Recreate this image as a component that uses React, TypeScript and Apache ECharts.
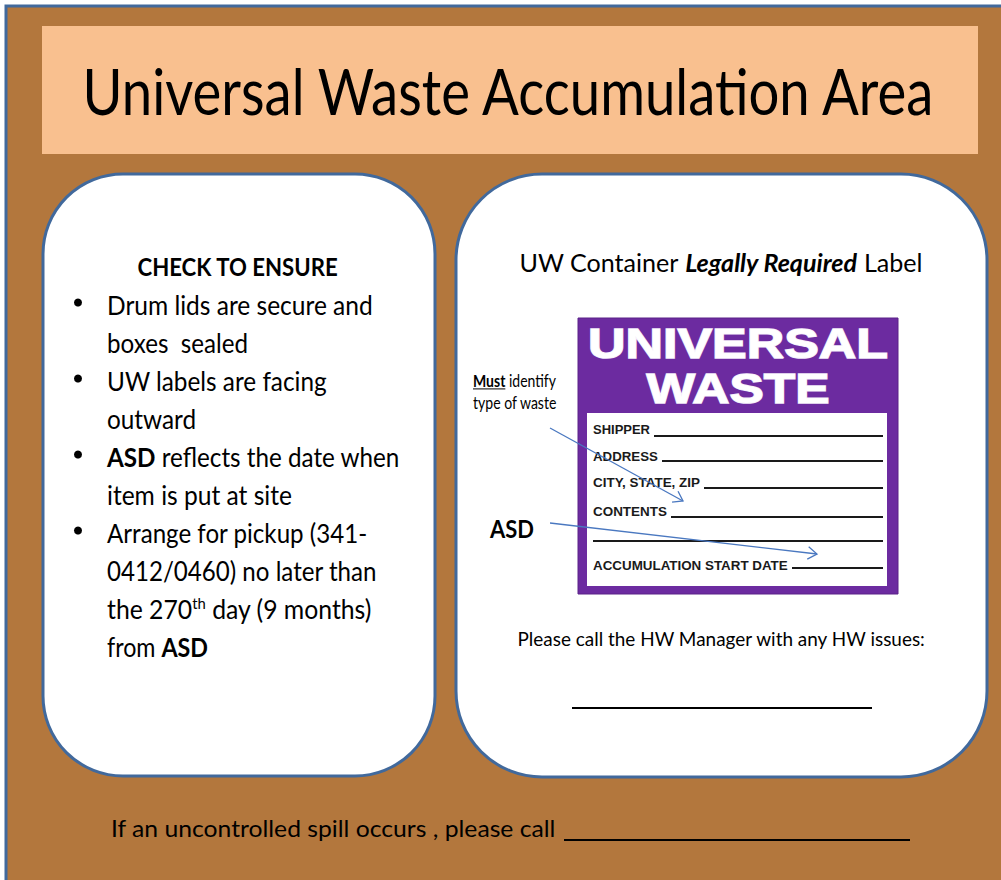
import React, { useEffect, useRef } from 'react';
import * as echarts from 'echarts';

type Seg = { t: string; b?: boolean; i?: boolean; sup?: boolean; u?: boolean };

// ---------- content ----------
const TITLE = 'Universal Waste Accumulation Area';
const CHECK_HEADING = 'CHECK TO ENSURE';
const CHECK_LINES: Seg[][] = [
  [{ t: 'Drum lids are secure and' }],
  [{ t: 'boxes  sealed' }],
  [{ t: 'UW labels are facing' }],
  [{ t: 'outward' }],
  [{ t: 'ASD', b: true }, { t: ' reflects the date when' }],
  [{ t: 'item is put at site' }],
  [{ t: 'Arrange for pickup (341-' }],
  [{ t: '0412/0460) no later than' }],
  [{ t: 'the 270' }, { t: 'th', sup: true }, { t: ' day (9 months)' }],
  [{ t: 'from ' }, { t: 'ASD', b: true }],
];
const BULLET_LINES = [0, 2, 4, 6];
const RIGHT_HEADING: Seg[] = [{ t: 'UW Container ' }, { t: 'Legally Required', b: true, i: true }, { t: ' Label' }];
const NOTE_LINE1: Seg[] = [{ t: 'Must', b: true, u: true }, { t: ' identify' }];
const NOTE_LINE2: Seg[] = [{ t: 'type of waste' }];
const ASD_TEXT = 'ASD';
const LABEL_HEAD = ['UNIVERSAL', 'WASTE'];
const LABEL_FIELDS = ['SHIPPER', 'ADDRESS', 'CITY, STATE, ZIP', 'CONTENTS', '', 'ACCUMULATION START DATE'];
const MANAGER_TEXT = 'Please call the HW Manager with any HW issues:';
const SPILL_TEXT = 'If an uncontrolled spill occurs , please call';

// ---------- layout (pixel targets) ----------
const CHECK_WIDTHS = [266, 141, 220, 89, 293, 185, 261, 270, 265, 101];
const FIELD_WIDTHS = [57, 65, 107, 74, 0, 195];
const FIELD_Y = [430, 457, 483, 512, 540, 566];
const FIELD_LINE_Y = [436, 461, 488, 517, 541, 568];

const FONT = 'Lato';
const LABEL_FONT = '"Liberation Sans", Arial, sans-serif';
const BROWN = '#B3773D';
const PEACH = '#F9C08F';
const BORDER = '#41699C';
const PURPLE = '#6C2BA0';
const ARROW = '#4A78C0';

const cvs = document.createElement('canvas');
const ctx = cvs.getContext('2d')!;
function measure(text: string, size: number, bold = false, italic = false, family = FONT) {
  ctx.font = `${italic ? 'italic' : 'normal'} ${bold ? 'bold' : 'normal'} ${size}px ${family}`;
  return ctx.measureText(text).width;
}

function line(
  segs: Seg[],
  x0: number,
  yMid: number,
  size: number,
  opts: { target?: number; align?: 'left' | 'center'; bold?: boolean; family?: string; color?: string } = {}
): any[] {
  const family = opts.family || FONT;
  const color = opts.color || '#000';
  const ws = segs.map((s) => {
    const fs = s.sup ? size * 0.6 : size;
    return measure(s.t, fs, s.b || opts.bold, s.i, family);
  });
  const W = ws.reduce((a, b) => a + b, 0);
  const sc = opts.target ? opts.target / W : 1;
  let cx = opts.align === 'center' ? x0 - (W * sc) / 2 : x0;
  const out: any[] = [];
  segs.forEach((s, k) => {
    const fs = s.sup ? size * 0.6 : size;
    out.push({
      type: 'text',
      x: cx,
      y: s.sup ? yMid - size * 0.2 : yMid,
      scaleX: sc,
      z: 10,
      style: {
        text: s.t,
        fontSize: fs,
        fontFamily: family,
        fontWeight: s.b || opts.bold ? 'bold' : 'normal',
        fontStyle: s.i ? 'italic' : 'normal',
        fill: color,
        align: 'left',
        verticalAlign: 'middle',
      },
    });
    if (s.u) {
      out.push({
        type: 'line',
        z: 10,
        shape: { x1: cx, y1: yMid + size * 0.48, x2: cx + ws[k] * sc, y2: yMid + size * 0.48 },
        style: { stroke: color, lineWidth: 1 },
      });
    }
    cx += ws[k] * sc;
  });
  return out;
}

function arrow(x1: number, y1: number, x2: number, y2: number): any[] {
  const ang = Math.atan2(y2 - y1, x2 - x1);
  const L = 11;
  const a = 0.6;
  const p1 = [x2 - L * Math.cos(ang - a), y2 - L * Math.sin(ang - a)];
  const p2 = [x2 - L * Math.cos(ang + a), y2 - L * Math.sin(ang + a)];
  return [
    { type: 'line', z: 20, shape: { x1, y1, x2, y2 }, style: { stroke: ARROW, lineWidth: 1.3 } },
    { type: 'polyline', z: 20, shape: { points: [p1, [x2, y2], p2] }, style: { stroke: ARROW, fill: 'none', lineWidth: 1.3 } },
  ];
}

function buildElements(): any[] {
  const els: any[] = [];
  // outer board
  els.push({ type: 'rect', z: 1, shape: { x: 6, y: 6, width: 1100, height: 1000 }, style: { fill: BROWN, stroke: BORDER, lineWidth: 3 } });
  // title band
  els.push({ type: 'rect', z: 2, shape: { x: 42, y: 26, width: 936, height: 128 }, style: { fill: PEACH } });
  els.push(...line([{ t: TITLE }], 510, 91, 63, { target: 855, align: 'center' }));

  // panels
  els.push({ type: 'rect', z: 2, shape: { x: 43, y: 174, width: 392, height: 602, r: 80 }, style: { fill: '#fff', stroke: BORDER, lineWidth: 3 } });
  els.push({ type: 'rect', z: 2, shape: { x: 456, y: 174, width: 531, height: 603, r: 86 }, style: { fill: '#fff', stroke: BORDER, lineWidth: 3 } });

  // left panel text
  els.push(...line([{ t: CHECK_HEADING }], 238, 266, 25, { target: 201, align: 'center', bold: true }));
  CHECK_LINES.forEach((segs, k) => {
    const y = 304.5 + k * 38;
    els.push(...line(segs, 107, y, 26.5, { target: CHECK_WIDTHS[k] }));
    if (BULLET_LINES.includes(k)) {
      els.push({ type: 'circle', z: 10, shape: { cx: 78, cy: y - 2, r: 4 }, style: { fill: '#000' } });
    }
  });

  // right panel
  els.push(...line(RIGHT_HEADING, 721, 262, 25, { target: 403, align: 'center' }));
  els.push(...line(NOTE_LINE1, 473, 381, 16.5, { target: 83 }));
  els.push(...line(NOTE_LINE2, 473, 403, 16.5, { target: 84 }));
  els.push(...line([{ t: ASD_TEXT }], 490, 528, 25, { target: 44, bold: true }));

  // label
  els.push({ type: 'rect', z: 5, shape: { x: 578, y: 318, width: 320, height: 276 }, style: { fill: PURPLE, stroke: '#5a2288', lineWidth: 1 } });
  els.push({ type: 'rect', z: 6, shape: { x: 587, y: 413, width: 300, height: 173 }, style: { fill: '#fff' } });
  const headW = [300, 183];
  const headY = [343, 388];
  LABEL_HEAD.forEach((t, k) => {
    const size = 42;
    const w = measure(t, size, true, false, LABEL_FONT);
    els.push({
      type: 'text',
      x: 738,
      y: headY[k],
      scaleX: headW[k] / w,
      z: 10,
      style: {
        text: t,
        fontSize: size,
        fontFamily: LABEL_FONT,
        fontWeight: 'bold',
        fill: '#fff',
        stroke: '#f4eefa',
        lineWidth: 1.5,
        align: 'center',
        verticalAlign: 'middle',
      },
    });
  });
  LABEL_FIELDS.forEach((t, k) => {
    let lineStart = 593;
    if (t) {
      els.push(...line([{ t }], 593, FIELD_Y[k], 12.5, { target: FIELD_WIDTHS[k], bold: true, family: LABEL_FONT, color: '#1a1a1a' }));
      lineStart = 593 + FIELD_WIDTHS[k] + 4;
    }
    els.push({ type: 'line', z: 10, shape: { x1: lineStart, y1: FIELD_LINE_Y[k], x2: 883, y2: FIELD_LINE_Y[k] }, style: { stroke: '#1a1a1a', lineWidth: 2 } });
  });

  // arrows
  els.push(...arrow(550, 428, 683, 501));
  els.push(...arrow(550, 523, 817, 554));

  // manager line
  els.push(...line([{ t: MANAGER_TEXT }], 722, 638, 19, { target: 409, align: 'center' }));
  els.push({ type: 'line', z: 10, shape: { x1: 572, y1: 708, x2: 872, y2: 708 }, style: { stroke: '#000', lineWidth: 2 } });

  // spill line
  els.push(...line([{ t: SPILL_TEXT }], 111, 828, 24, { target: 445 }));
  els.push({ type: 'line', z: 10, shape: { x1: 564, y1: 840, x2: 910, y2: 840 }, style: { stroke: '#000', lineWidth: 2 } });

  return els;
}

export default function App() {
  const ref = useRef<HTMLDivElement>(null);
  useEffect(() => {
    const chart = echarts.init(ref.current!, null, { renderer: 'svg' });
    chart.setOption({
      animation: false,
      backgroundColor: '#ffffff',
      graphic: { elements: buildElements() },
    });
    return () => chart.dispose();
  }, []);
  return <div ref={ref} style={{ position: 'fixed', left: 0, top: 0, width: 1001, height: 880 }} />;
}
